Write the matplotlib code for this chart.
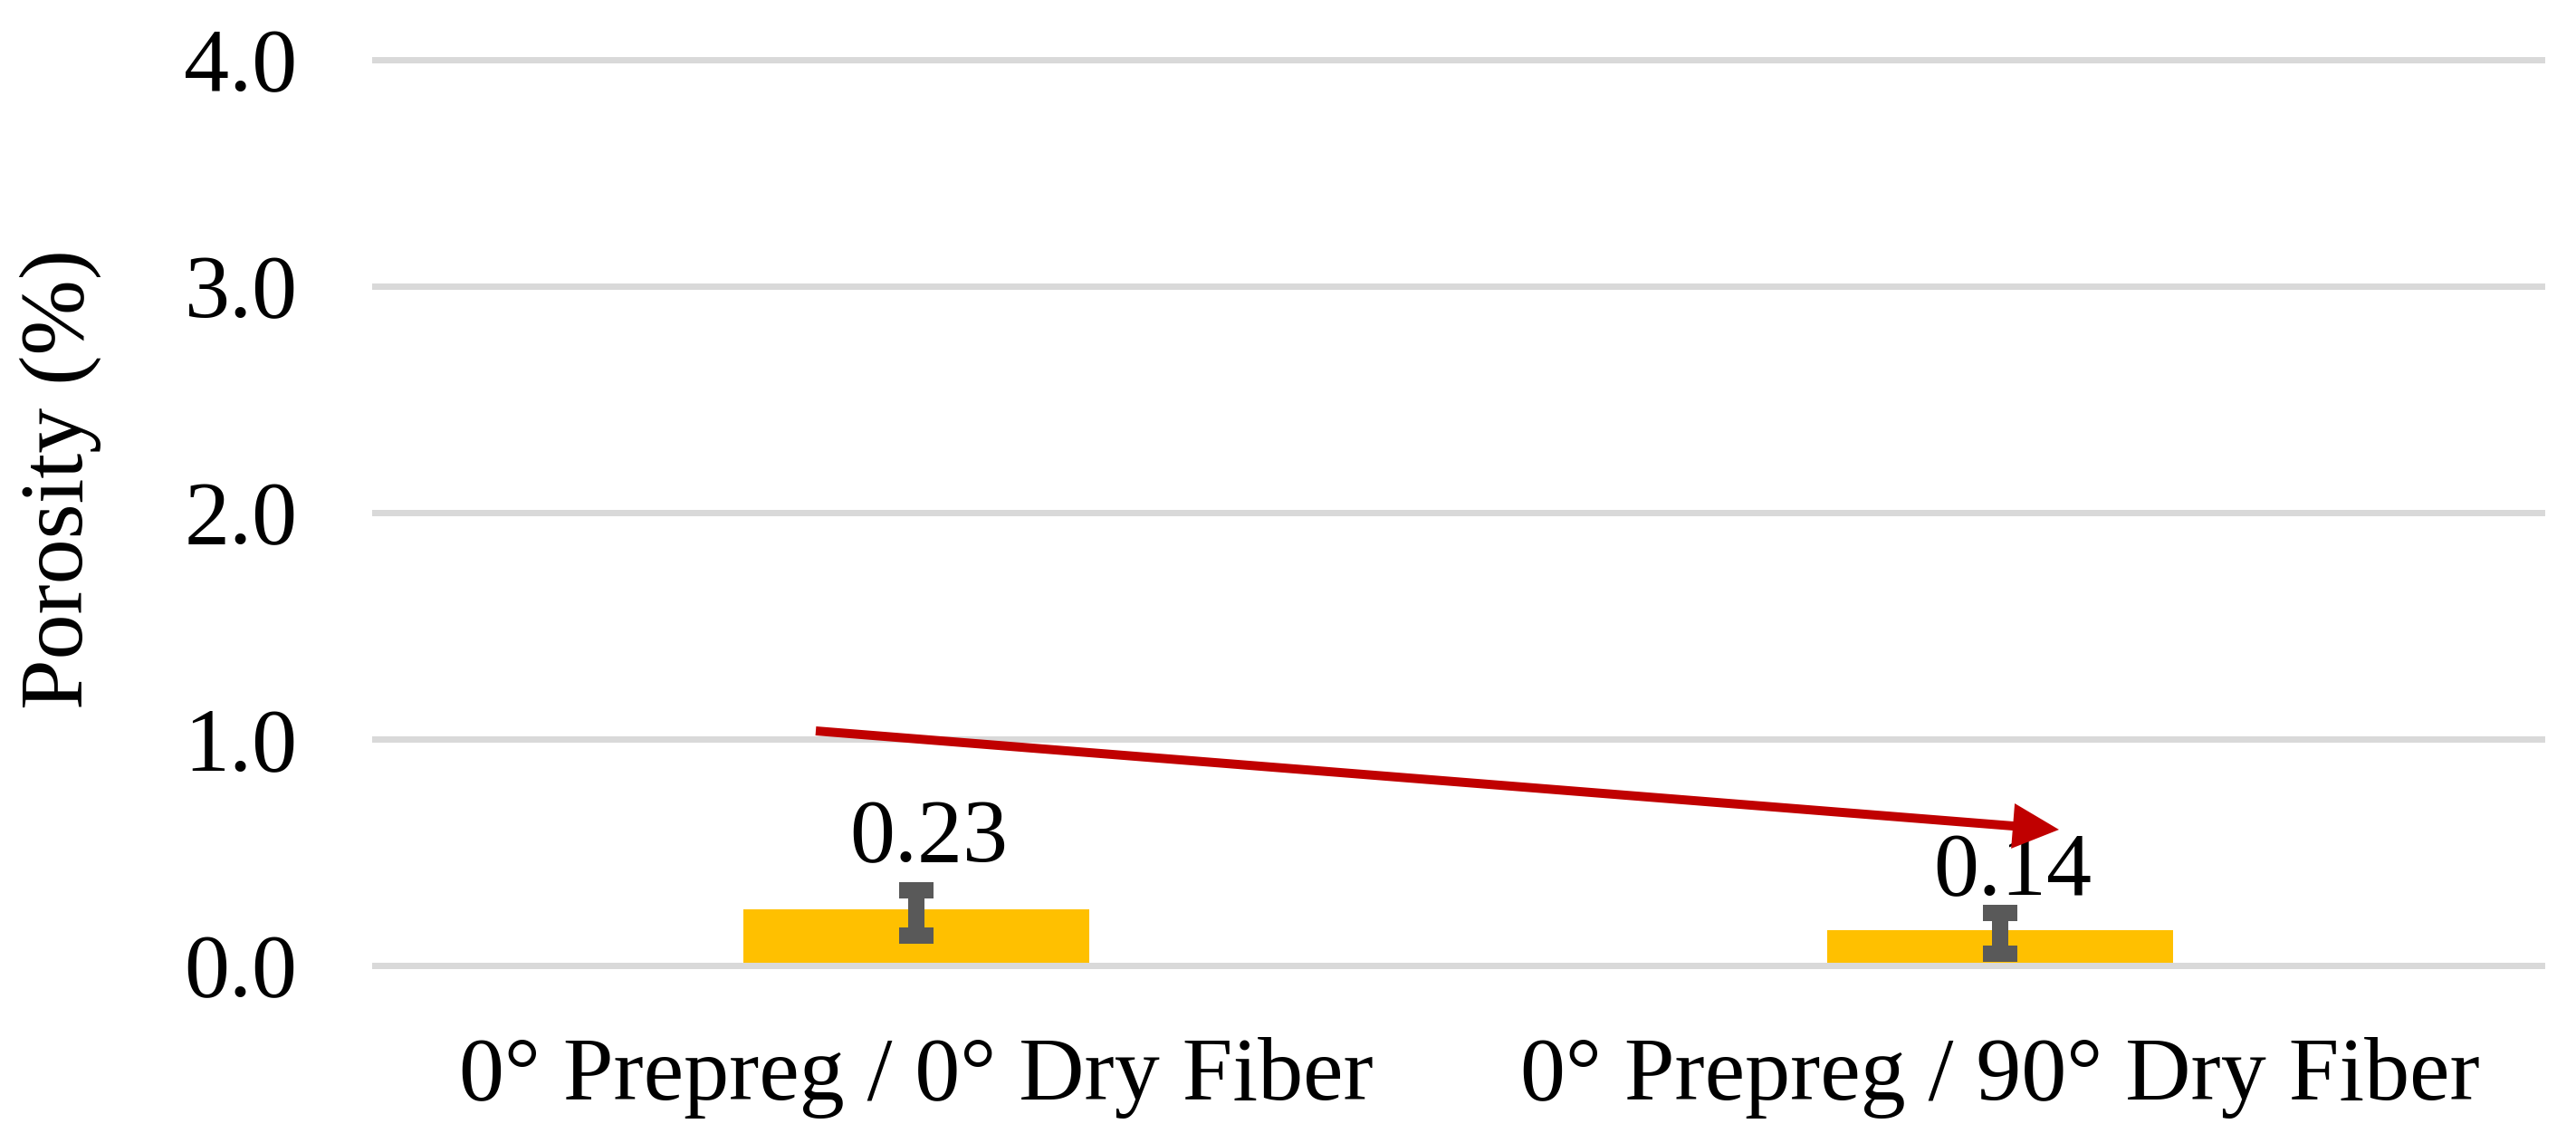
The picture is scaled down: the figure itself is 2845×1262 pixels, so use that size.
import matplotlib
matplotlib.use("Agg")
import matplotlib.pyplot as plt
import numpy as np

# ---- data ----
categories = ["0° Prepreg / 0° Dry Fiber", "0° Prepreg / 90° Dry Fiber"]
porosity = [0.23, 0.14]
porosity_err = [0.10, 0.09]
value_labels = ["0.23", "0.14"]
y_ticks = [0.0, 1.0, 2.0, 3.0, 4.0]
y_tick_labels = ["0.0", "1.0", "2.0", "3.0", "4.0"]
y_label = "Porosity (%)"
# trend arrow annotation (data coordinates: category index, porosity %)
arrow_start = (-0.093, 1.034)
arrow_end = (1.0545, 0.598)

# ---- style ----
BAR = "#FFC000"
ERR = "#595959"
GRID = "#D9D9D9"
RED = "#C00000"
FONT = "Liberation Serif"
FS = 72
DPI = 100
px = 72.0 / DPI  # points per pixel

plt.rcParams["font.family"] = [FONT, "DejaVu Serif"]

fig = plt.figure(figsize=(28.45, 12.62), dpi=DPI)
ax = fig.add_axes([414 / 2845, 1 - 1065.5 / 1262, (2807 - 414) / 2845, 1000 / 1262])

x = np.arange(len(categories))
ax.bar(x, porosity, width=0.3126, color=BAR, edgecolor=BAR, linewidth=8 * px, zorder=2)
ax.errorbar(x, porosity, yerr=porosity_err, fmt="none", ecolor=ERR,
            elinewidth=18 * px, capsize=19 * px, capthick=18 * px, zorder=4)

for yt in y_ticks:
    ax.axhline(yt, color=GRID, linewidth=7 * px, clip_on=False,
               zorder=3 if yt == 0 else 0.5)

label_dy = [56.5 * px, 43.5 * px]
for xi, v, lab, dy in zip(x, porosity, value_labels, label_dy):
    ax.annotate(lab, xy=(xi, v), xytext=(14 * px, dy), textcoords="offset points",
                ha="center", va="baseline", fontsize=FS, color="black", zorder=5)

ax.annotate("", xy=arrow_end, xytext=arrow_start,
            arrowprops=dict(arrowstyle="simple,tail_width=10,head_width=50,head_length=51",
                            color=RED, lw=0, shrinkA=0, shrinkB=0, mutation_scale=px),
            zorder=6)

ax.set_xlim(-0.5, len(categories) - 0.5)
ax.set_ylim(0, 4)
ax.set_xticks(x)
ax.set_xticklabels(categories, fontsize=FS)
ax.set_yticks(y_ticks)
ax.set_yticklabels(y_tick_labels, fontsize=FS)
ax.tick_params(axis="both", length=0)
ax.tick_params(axis="y", pad=61.5)
ax.tick_params(axis="x", pad=57)
for s in ax.spines.values():
    s.set_visible(False)

fig.text(67 / 2845, 1 - 529 / 1262, y_label, rotation=90, ha="center", va="center",
         fontsize=FS, color="black")

fig.savefig("out.png", dpi=DPI, facecolor="white")
